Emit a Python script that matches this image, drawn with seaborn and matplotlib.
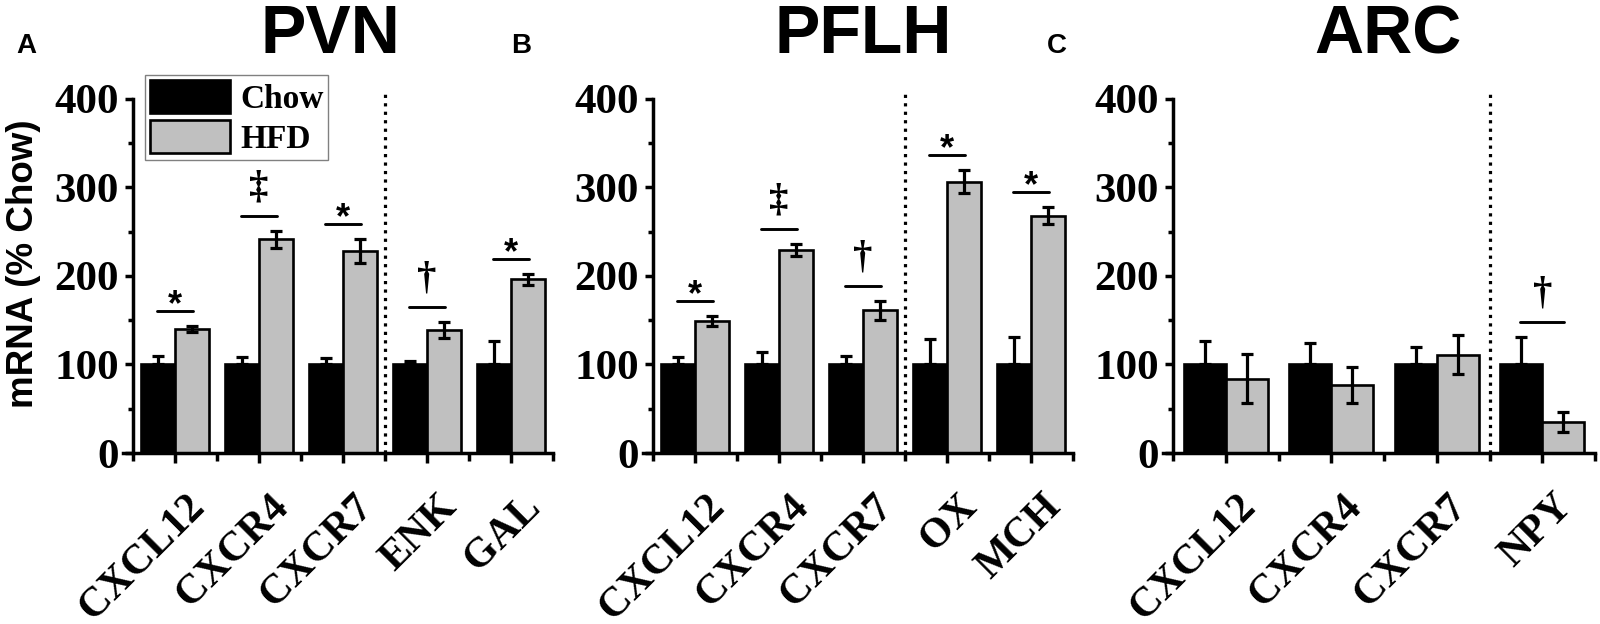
import numpy as np
import pandas as pd
import seaborn as sns
import matplotlib.pyplot as plt
from matplotlib.transforms import ScaledTranslation

# values (mRNA, % of Chow)
pvn_genes = ['CXCL12', 'CXCR4', 'CXCR7', 'ENK', 'GAL']
pvn_chow = [100, 100, 100, 100, 100]
pvn_chow_err = [9, 8, 7, 4, 26]
pvn_hfd = [140, 241, 228, 139, 196]
pvn_hfd_err = [3, 10, 13, 9, 6]
pvn_sig = ['*', '\u2021', '*', '\u2020', '*']

pflh_genes = ['CXCL12', 'CXCR4', 'CXCR7', 'OX', 'MCH']
pflh_chow = [100, 100, 100, 100, 100]
pflh_chow_err = [8, 14, 9, 29, 31]
pflh_hfd = [149, 229, 161, 306, 268]
pflh_hfd_err = [6, 7, 11, 13, 10]
pflh_sig = ['*', '\u2021', '\u2020', '*', '*']

arc_genes = ['CXCL12', 'CXCR4', 'CXCR7', 'NPY']
arc_chow = [100, 100, 100, 100]
arc_chow_err = [26, 24, 20, 31]
arc_hfd = [84, 77, 111, 35]
arc_hfd_err = [28, 20, 22, 11]
arc_sig = ['', '', '', '\u2020']

diets = ['Chow', 'HFD']
colors = {'Chow': 'black', 'HFD': '#c0c0c0'}

sns.set_style('ticks')
SERIF = ['Liberation Serif', 'DejaVu Serif']
SANS = ['Liberation Sans', 'DejaVu Sans']
plt.rcParams['font.family'] = SERIF
plt.rcParams.update({'text.color': 'black', 'axes.edgecolor': 'black',
                     'axes.labelcolor': 'black', 'xtick.color': 'black',
                     'ytick.color': 'black'})

W, H = 1600, 624
fig = plt.figure(figsize=(16, 6.24), dpi=100)


def draw_panel(left, right, genes, chow, chow_err, hfd, hfd_err, sig, sep, legend=False):
    bottom, top = 453, 88
    ax = fig.add_axes([left / W, 1 - bottom / H, (right - left) / W, (bottom - top) / H])
    n = len(genes)
    gw = (right - left - 10) / n
    df = pd.DataFrame({
        'gene': genes * 2,
        'diet': ['Chow'] * n + ['HFD'] * n,
        'value': list(chow) + list(hfd),
    })
    sns.barplot(data=df, x='gene', y='value', hue='diet', hue_order=diets,
                palette=colors, edgecolor='black', linewidth=1.9,
                errorbar=None, width=0.8, ax=ax, legend=False, saturation=1)

    chow_bars, hfd_bars = ax.containers[0], ax.containers[1]
    cx = [b.get_x() + b.get_width() / 2 for b in chow_bars]
    hx = [b.get_x() + b.get_width() / 2 for b in hfd_bars]
    ax.errorbar(cx, chow, yerr=[np.zeros(n), chow_err], fmt='none', ecolor='black',
                elinewidth=2.3, capsize=4.5, capthick=2.3, zorder=5)
    ax.errorbar(hx, hfd, yerr=hfd_err, fmt='none', ecolor='black',
                elinewidth=2.3, capsize=4.5, capthick=2.3, zorder=5)

    # significance marks
    for i, s in enumerate(sig):
        if not s:
            continue
        ly = max(chow[i] + chow_err[i], hfd[i] + hfd_err[i]) + 17
        ax.plot([i - 0.21, i + 0.21], [ly, ly], color='black', lw=2.1)
        if s == '*':
            ax.annotate(s, xy=(i, ly), xytext=(0, -3), textcoords='offset points',
                        ha='center', va='baseline', fontsize=26, fontweight='bold',
                        family=SANS)
        else:
            ax.annotate(s, xy=(i, ly), xytext=(0, 13), textcoords='offset points',
                        ha='center', va='baseline', fontsize=28, fontweight='bold',
                        family=SERIF)

    ax.vlines(sep, 0, 410, colors='black', linestyles=':', lw=2.3, zorder=6)

    ax.set_xlim(-0.5 - 10 / gw, n - 0.5)
    ax.set_ylim(0, 412)
    ax.spines['left'].set_position(('data', -0.5))
    ax.spines['left'].set_bounds(0, 400)
    ax.spines['right'].set_visible(False)
    ax.spines['top'].set_visible(False)
    for sp in ['left', 'bottom']:
        ax.spines[sp].set_linewidth(2.5)

    ax.set_yticks([0, 100, 200, 300, 400])
    ax.set_yticks([50, 150, 250, 350], minor=True)
    ax.set_xticks(range(n))
    ax.set_xticks(np.arange(-0.5, n, 1.0), minor=True)
    ax.tick_params(axis='both', which='major', direction='out', width=2.5)
    ax.tick_params(axis='y', which='major', length=6, pad=4)
    ax.tick_params(axis='y', which='minor', length=3.5, width=2.5)
    ax.tick_params(axis='x', which='major', length=7.5, pad=27)
    ax.tick_params(axis='x', which='minor', length=5.5, width=2.5)
    ax.set_yticklabels(['0', '100', '200', '300', '400'], fontsize=31,
                       fontweight='bold', family=SERIF)
    ax.set_xticklabels(genes, rotation=45, ha='right', va='center',
                       rotation_mode='anchor', fontsize=30, fontweight='bold',
                       family=SERIF)
    shift = ScaledTranslation(0.24, 0, fig.dpi_scale_trans)
    for lab in ax.get_xticklabels():
        lab.set_transform(lab.get_transform() + shift)
    ax.set_xlabel('')
    ax.set_ylabel('')

    if legend:
        ax.legend([chow_bars[0], hfd_bars[0]], diets, loc='upper left',
                  bbox_to_anchor=(145 / W, 1 - 75 / H), bbox_transform=fig.transFigure,
                  prop={'family': SERIF, 'weight': 'bold', 'size': 24},
                  frameon=True, fancybox=False, edgecolor='#808080', framealpha=1,
                  handlelength=2.4, handleheight=1.15, labelspacing=0.15,
                  handletextpad=0.3, borderpad=0.15, borderaxespad=0)
    return ax


draw_panel(123, 553, pvn_genes, pvn_chow, pvn_chow_err, pvn_hfd, pvn_hfd_err,
           pvn_sig, 2.5, legend=True)
draw_panel(643, 1073, pflh_genes, pflh_chow, pflh_chow_err, pflh_hfd, pflh_hfd_err,
           pflh_sig, 2.5)
draw_panel(1163, 1595, arc_genes, arc_chow, arc_chow_err, arc_hfd, arc_hfd_err,
           arc_sig, 2.5)

fig.text(24 / W, 1 - 264 / H, 'mRNA (% Chow)', rotation=90, ha='center', va='center',
         fontsize=26.5, fontweight='bold', family=SANS)

for x, t in [(330, 'PVN'), (863, 'PFLH'), (1388, 'ARC')]:
    fig.text(x / W, 1 - 53 / H, t, ha='center', va='baseline', fontsize=49,
             fontweight='bold', family=SANS)
for x, t in [(16, 'A'), (511, 'B'), (1047, 'C')]:
    fig.text(x / W, 1 - 53 / H, t, ha='left', va='baseline', fontsize=20,
             fontweight='bold', family=SANS)

fig.savefig('out.png', dpi=100, facecolor='white')
